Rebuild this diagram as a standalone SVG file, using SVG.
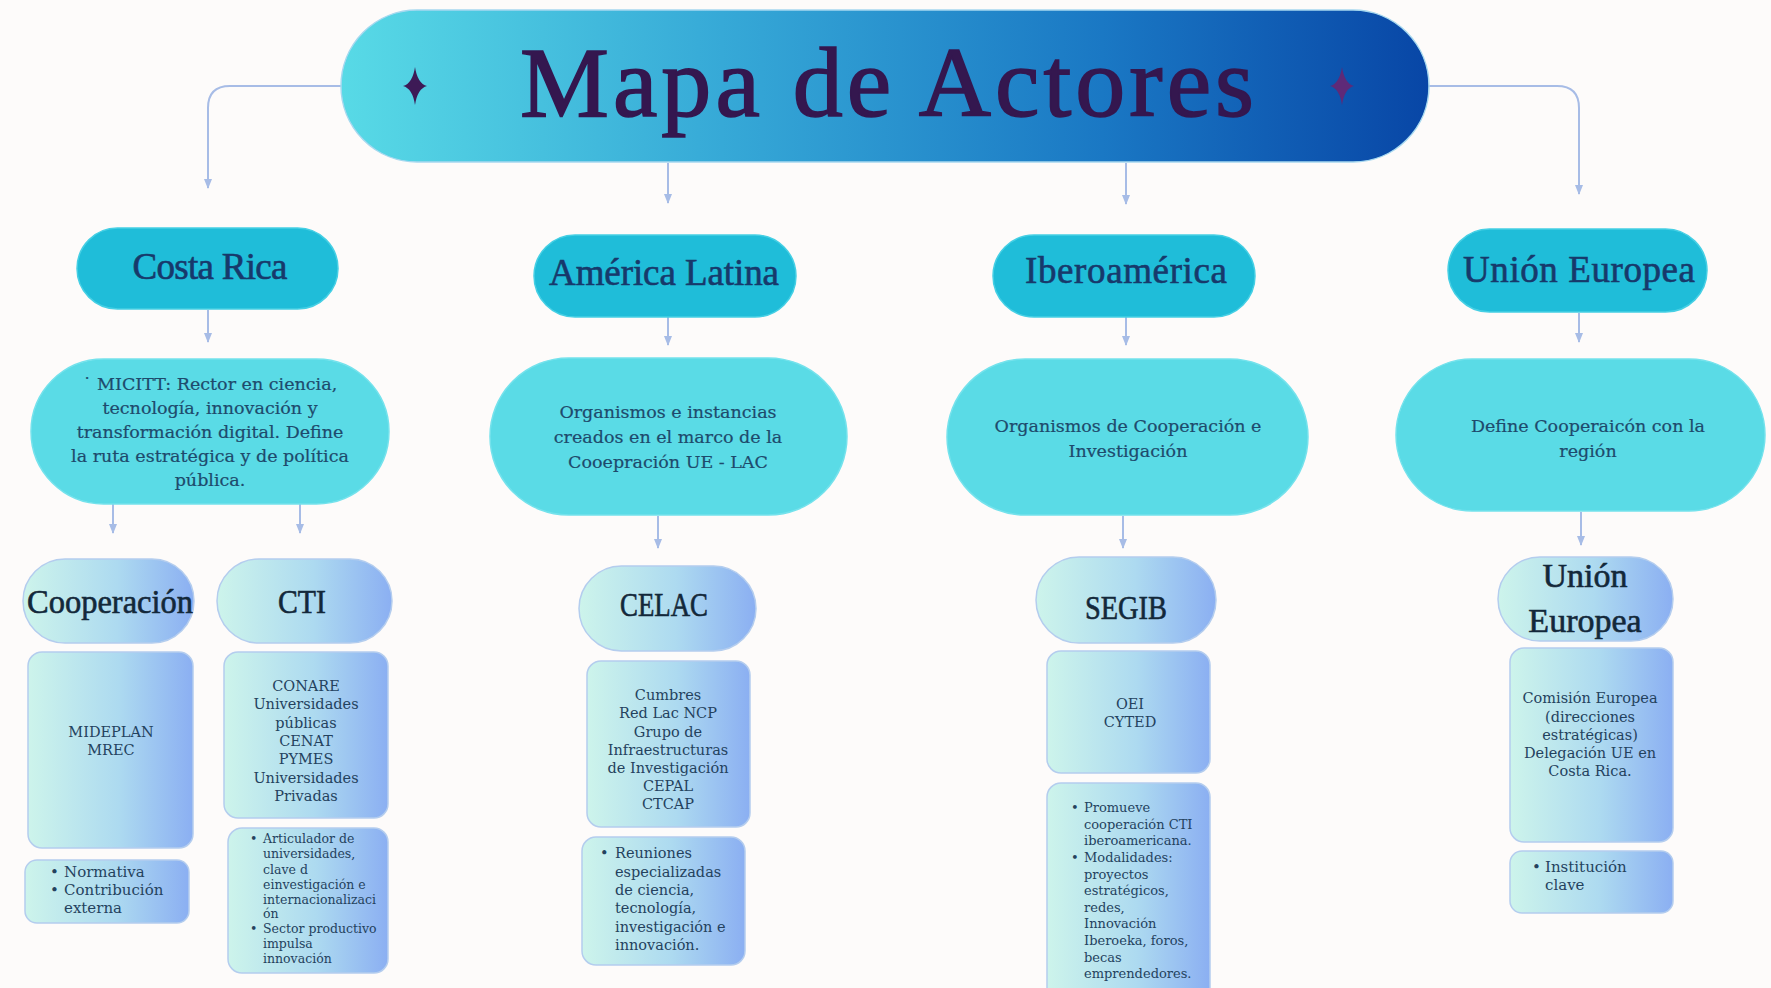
<svg xmlns="http://www.w3.org/2000/svg" width="1771" height="988" viewBox="0 0 1771 988">
<defs>
<linearGradient id="gTitle" x1="0" y1="0" x2="1" y2="0">
<stop offset="0" stop-color="#58dae6"/>
<stop offset="0.35" stop-color="#36a9d7"/>
<stop offset="0.7" stop-color="#1a78c4"/>
<stop offset="1" stop-color="#0846a6"/>
</linearGradient>
<linearGradient id="gBox" x1="0" y1="0" x2="1" y2="0">
<stop offset="0" stop-color="#cdf4eb"/>
<stop offset="0.55" stop-color="#addaf0"/>
<stop offset="1" stop-color="#8bafF2"/>
</linearGradient>
<marker id="ah" markerWidth="10" markerHeight="8" refX="9" refY="4" orient="auto" markerUnits="userSpaceOnUse">
<path d="M0,0 L10,4 L0,8 Z" fill="#a7bce6"/>
</marker>
<path id="star" d="M0,-19 Q2.5,-2.5 12,0 Q2.5,2.5 0,19 Q-2.5,2.5 -12,0 Q-2.5,-2.5 0,-19Z"/>
</defs>
<style>
.l1 { fill:#1fbdd9; stroke:#45cfe4; stroke-width:1.5; }
.l2 { fill:#5adbe6; stroke:#74e2ec; stroke-width:1.5; }
.bx { fill:url(#gBox); stroke:#b4cdee; stroke-width:1.5; }
.h1 { font-family:"Liberation Serif", serif; font-size:37px; fill:#17396b; stroke:#17396b; stroke-width:0.6; text-anchor:middle; }
.h3 { font-family:"Liberation Serif", serif; font-size:34px; fill:#13283a; stroke:#13283a; stroke-width:0.6; text-anchor:middle; }
.t2 { font-family:"DejaVu Serif", serif; font-size:17.5px; fill:#1e4a6c; stroke:#1e4a6c; stroke-width:0.2; text-anchor:middle; }
.t4 { font-family:"DejaVu Serif", serif; font-size:14.5px; fill:#24425e; text-anchor:middle; }
.s4 { font-family:"DejaVu Serif", serif; font-size:14.5px; fill:#24425e; }
.b4 { font-family:"DejaVu Serif", serif; font-size:15px; fill:#24425e; }
.b3 { font-family:"DejaVu Serif", serif; font-size:12.5px; fill:#24425e; }
.b13 { font-family:"DejaVu Serif", serif; font-size:13px; fill:#24425e; }
.con { fill:none; stroke:#a7bce6; stroke-width:2; marker-end:url(#ah); }
</style>
<rect x="0" y="0" width="1771" height="988" fill="#fdfbfa"/>

<g id="connectors">
<path class="con" d="M341,86 H230 Q208,86 208,108 V188"/>
<path class="con" d="M1429,86 H1557 Q1579,86 1579,108 V194"/>
<path class="con" d="M668,163 V203"/>
<path class="con" d="M1126,163 V204"/>
<path class="con" d="M208,310 V342"/>
<path class="con" d="M668,317 V345"/>
<path class="con" d="M1126,317 V345"/>
<path class="con" d="M1579,313 V342"/>
<path class="con" d="M113,504 V533"/>
<path class="con" d="M300,504 V533"/>
<path class="con" d="M658,516 V548"/>
<path class="con" d="M1123,516 V548"/>
<path class="con" d="M1581,512 V545"/>
</g>

<g id="title">
<rect x="341" y="10" width="1088" height="152" rx="76" fill="url(#gTitle)" stroke="#a6d8ef" stroke-width="1.5"/>
<use href="#star" x="415" y="86" fill="#3d1a56"/>
<use href="#star" x="1342" y="86" fill="#5e2a78"/>
<text x="887" y="116" font-family="Liberation Serif, serif" font-size="100" fill="#34174f" stroke="#34174f" stroke-width="1.6" text-anchor="middle" textLength="734" lengthAdjust="spacing">Mapa de Actores</text>
</g>

<g id="costa-rica">
<rect class="l1" x="77" y="228" width="261" height="81" rx="40.5"/>
<text class="h1" x="210" y="279" textLength="155">Costa Rica</text>
</g>
<g id="america-latina">
<rect class="l1" x="534" y="235" width="262" height="82" rx="41"/>
<text class="h1" x="664" y="285" textLength="230">América Latina</text>
</g>
<g id="iberoamerica">
<rect class="l1" x="993" y="235" width="262" height="82" rx="41"/>
<text class="h1" x="1126" y="283" textLength="202">Iberoamérica</text>
</g>
<g id="union-europea">
<rect class="l1" x="1448" y="229" width="259" height="83" rx="41.5"/>
<text class="h1" x="1579" y="282" textLength="232">Unión Europea</text>
</g>

<g id="micitt">
<rect class="l2" x="31" y="359" width="358" height="145" rx="72.5"/>
<text class="t2" x="210" y="390">˙ MICITT: Rector en ciencia,</text>
<text class="t2" x="210" y="414">tecnología, innovación y</text>
<text class="t2" x="210" y="438">transformación digital. Define</text>
<text class="t2" x="210" y="462">la ruta estratégica y de política</text>
<text class="t2" x="210" y="486">pública.</text>
</g>
<g id="organismos-ue-lac">
<rect class="l2" x="490" y="358" width="357" height="157" rx="78.5"/>
<text class="t2" x="668" y="418">Organismos e instancias</text>
<text class="t2" x="668" y="443">creados en el marco de la</text>
<text class="t2" x="668" y="468">Cooepración UE - LAC</text>
</g>
<g id="organismos-cooperacion">
<rect class="l2" x="947" y="359" width="361" height="156" rx="78"/>
<text class="t2" x="1128" y="432">Organismos de Cooperación e</text>
<text class="t2" x="1128" y="457">Investigación</text>
</g>
<g id="define-cooperacion">
<rect class="l2" x="1396" y="359" width="369" height="152" rx="76"/>
<text class="t2" x="1588" y="432">Define Cooperaicón con la</text>
<text class="t2" x="1588" y="457">región</text>
</g>

<g id="cooperacion">
<rect class="bx" x="23" y="559" width="171" height="84" rx="42"/>
<text class="h3" x="110" y="613" textLength="166" lengthAdjust="spacingAndGlyphs">Cooperación</text>
</g>
<g id="cti">
<rect class="bx" x="217" y="559" width="175" height="84" rx="42"/>
<text class="h3" x="302" y="613" textLength="48" lengthAdjust="spacingAndGlyphs">CTI</text>
</g>
<g id="celac">
<rect class="bx" x="579" y="566" width="177" height="85" rx="42.5"/>
<text class="h3" x="664" y="616" textLength="88" lengthAdjust="spacingAndGlyphs">CELAC</text>
</g>
<g id="segib">
<rect class="bx" x="1036" y="557" width="180" height="86" rx="43"/>
<text class="h3" x="1126" y="619" textLength="82" lengthAdjust="spacingAndGlyphs">SEGIB</text>
</g>
<g id="ue-sub">
<rect class="bx" x="1498" y="557" width="175" height="84" rx="42"/>
<text class="h3" x="1585" y="587">Unión</text>
<text class="h3" x="1585" y="632">Europea</text>
</g>

<g id="mideplan">
<rect class="bx" x="28" y="652" width="165" height="196" rx="14"/>
<text class="t4" x="111" y="737">MIDEPLAN</text>
<text class="t4" x="111" y="755">MREC</text>
</g>
<g id="normativa">
<rect class="bx" x="25" y="860" width="164" height="63" rx="12"/>
<text class="b4" x="50" y="877">•</text>
<text class="b4" x="64" y="877">Normativa</text>
<text class="b4" x="50" y="895">•</text>
<text class="b4" x="64" y="895">Contribución</text>
<text class="b4" x="64" y="913">externa</text>
</g>
<g id="conare">
<rect class="bx" x="224" y="652" width="164" height="166" rx="14"/>
<text class="t4" x="306" y="691">CONARE</text>
<text class="t4" x="306" y="709">Universidades</text>
<text class="t4" x="306" y="728">públicas</text>
<text class="t4" x="306" y="746">CENAT</text>
<text class="t4" x="306" y="764">PYMES</text>
<text class="t4" x="306" y="783">Universidades</text>
<text class="t4" x="306" y="801">Privadas</text>
</g>
<g id="articulador">
<rect class="bx" x="228" y="828" width="160" height="145" rx="14"/>
<text class="b3" x="250" y="843">•</text>
<text class="b3" x="263" y="843">Articulador de</text>
<text class="b3" x="263" y="858">universidades,</text>
<text class="b3" x="263" y="874">clave d</text>
<text class="b3" x="263" y="889">einvestigación e</text>
<text class="b3" x="263" y="904">internacionalizaci</text>
<text class="b3" x="263" y="918">ón</text>
<text class="b3" x="250" y="933">•</text>
<text class="b3" x="263" y="933">Sector productivo</text>
<text class="b3" x="263" y="948">impulsa</text>
<text class="b3" x="263" y="963">innovación</text>
</g>
<g id="cumbres">
<rect class="bx" x="587" y="661" width="163" height="166" rx="14"/>
<text class="t4" x="668" y="700">Cumbres</text>
<text class="t4" x="668" y="718">Red Lac NCP</text>
<text class="t4" x="668" y="737">Grupo de</text>
<text class="t4" x="668" y="755">Infraestructuras</text>
<text class="t4" x="668" y="773">de Investigación</text>
<text class="t4" x="668" y="791">CEPAL</text>
<text class="t4" x="668" y="809">CTCAP</text>
</g>
<g id="reuniones">
<rect class="bx" x="582" y="837" width="163" height="128" rx="14"/>
<text class="s4" x="600" y="858">•</text>
<text class="s4" x="615" y="858">Reuniones</text>
<text class="s4" x="615" y="877">especializadas</text>
<text class="s4" x="615" y="895">de ciencia,</text>
<text class="s4" x="615" y="913">tecnología,</text>
<text class="s4" x="615" y="932">investigación e</text>
<text class="s4" x="615" y="950">innovación.</text>
</g>
<g id="oei">
<rect class="bx" x="1047" y="651" width="163" height="122" rx="14"/>
<text class="t4" x="1130" y="709">OEI</text>
<text class="t4" x="1130" y="727">CYTED</text>
</g>
<g id="promueve">
<rect class="bx" x="1047" y="783" width="163" height="230" rx="14"/>
<text class="b13" x="1071" y="812">•</text>
<text class="b13" x="1084" y="812">Promueve</text>
<text class="b13" x="1084" y="829">cooperación CTI</text>
<text class="b13" x="1084" y="845">iberoamericana.</text>
<text class="b13" x="1071" y="862">•</text>
<text class="b13" x="1084" y="862">Modalidades:</text>
<text class="b13" x="1084" y="879">proyectos</text>
<text class="b13" x="1084" y="895">estratégicos,</text>
<text class="b13" x="1084" y="912">redes,</text>
<text class="b13" x="1084" y="928">Innovación</text>
<text class="b13" x="1084" y="945">Iberoeka, foros,</text>
<text class="b13" x="1084" y="962">becas</text>
<text class="b13" x="1084" y="978">emprendedores.</text>
</g>
<g id="comision">
<rect class="bx" x="1510" y="648" width="163" height="194" rx="14"/>
<text class="t4" x="1590" y="703">Comisión Europea</text>
<text class="t4" x="1590" y="722">(direcciones</text>
<text class="t4" x="1590" y="740">estratégicas)</text>
<text class="t4" x="1590" y="758">Delegación UE en</text>
<text class="t4" x="1590" y="776">Costa Rica.</text>
</g>
<g id="institucion">
<rect class="bx" x="1510" y="851" width="163" height="62" rx="12"/>
<text class="b4" x="1532" y="872">•</text>
<text class="b4" x="1545" y="872">Institución</text>
<text class="b4" x="1545" y="890">clave</text>
</g>
</svg>
